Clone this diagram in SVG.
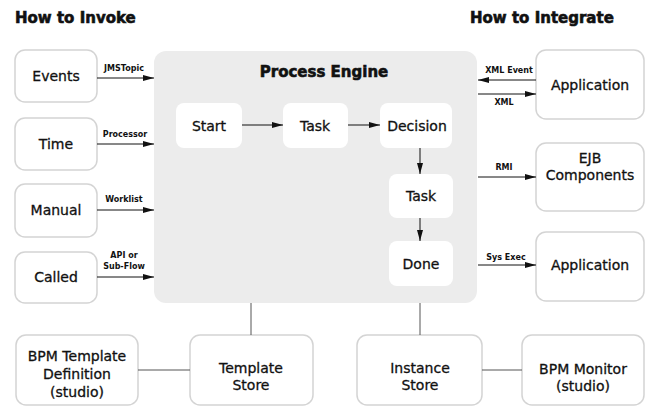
<svg xmlns="http://www.w3.org/2000/svg" width="647" height="407" viewBox="0 0 647 407">
  <style>
    .title { font-family: "DejaVu Sans", Verdana, sans-serif; font-weight: bold; font-size: 15px; fill: #111; stroke: #111; stroke-width: 0.6; }
    .ext { fill: #fff; stroke: #d4d4d4; stroke-width: 1.5; }
    .inner { fill: #fff; }
    .engine { fill: #ececec; }
    .lbl { font-family: "DejaVu Sans", Verdana, sans-serif; font-size: 14px; fill: #111; stroke: #111; stroke-width: 0.3; text-anchor: middle; }
    .small { font-family: "DejaVu Sans", Verdana, sans-serif; font-weight: bold; font-size: 8px; fill: #111; text-anchor: middle; }
    .flow { stroke: #111; stroke-width: 1; fill: none; marker-end: url(#head); }
    .link { stroke: #555; stroke-width: 1; fill: none; }
  </style>
  <defs>
    <marker id="head" markerUnits="userSpaceOnUse" markerWidth="11" markerHeight="7" refX="11" refY="3.5" orient="auto">
      <path d="M0,0.5 L11,3.5 L0,6.5 z" fill="#111"/>
    </marker>
  </defs>

  <rect width="647" height="407" fill="#fff"/>

  <text class="title" x="15" y="23">How to Invoke</text>
  <text class="title" x="470" y="23">How to Integrate</text>

  <!-- process engine container -->
  <g id="engine">
    <rect class="engine" x="154" y="51" width="323" height="252" rx="12"/>
    <text class="title" x="324" y="77" font-size="16" text-anchor="middle">Process Engine</text>
  </g>

  <!-- invocation sources -->
  <g id="events"><rect class="ext" x="15" y="50" width="82" height="52" rx="10"/><text class="lbl" x="56" y="81">Events</text></g>
  <g id="time"><rect class="ext" x="15" y="118" width="82" height="52" rx="10"/><text class="lbl" x="56" y="149">Time</text></g>
  <g id="manual"><rect class="ext" x="15" y="184" width="82" height="53" rx="10"/><text class="lbl" x="56" y="215">Manual</text></g>
  <g id="called"><rect class="ext" x="15" y="252" width="82" height="51" rx="10"/><text class="lbl" x="56" y="282">Called</text></g>

  <!-- engine steps -->
  <g id="start"><rect class="inner" x="176" y="103" width="66" height="45" rx="8"/><text class="lbl" x="209" y="131">Start</text></g>
  <g id="task1"><rect class="inner" x="283" y="103" width="65" height="45" rx="8"/><text class="lbl" x="315" y="131">Task</text></g>
  <g id="decision"><rect class="inner" x="380" y="103" width="72" height="45" rx="8"/><text class="lbl" x="417" y="131">Decision</text></g>
  <g id="task2"><rect class="inner" x="389" y="174" width="64" height="44" rx="8"/><text class="lbl" x="421" y="201">Task</text></g>
  <g id="done"><rect class="inner" x="389" y="241" width="64" height="45" rx="8"/><text class="lbl" x="421" y="269">Done</text></g>

  <!-- integration targets -->
  <g id="application1"><rect class="ext" x="536" y="50" width="108" height="69" rx="10"/><text class="lbl" x="590" y="90">Application</text></g>
  <g id="ejb"><rect class="ext" x="536" y="143" width="108" height="68" rx="10"/><text class="lbl" x="590" y="163">EJB</text><text class="lbl" x="590" y="180">Components</text></g>
  <g id="application2"><rect class="ext" x="536" y="232" width="108" height="69" rx="10"/><text class="lbl" x="590" y="270">Application</text></g>

  <!-- stores and studio tools -->
  <g id="template-def"><rect class="ext" x="16" y="335" width="122" height="70" rx="10"/><text class="lbl" x="77" y="361">BPM Template</text><text class="lbl" x="77" y="379">Definition</text><text class="lbl" x="77" y="397">(studio)</text></g>
  <g id="template-store"><rect class="ext" x="190" y="335" width="123" height="70" rx="10"/><text class="lbl" x="251" y="373">Template</text><text class="lbl" x="251" y="390">Store</text></g>
  <g id="instance-store"><rect class="ext" x="357" y="335" width="125" height="70" rx="10"/><text class="lbl" x="420" y="373">Instance</text><text class="lbl" x="420" y="390">Store</text></g>
  <g id="monitor"><rect class="ext" x="522" y="335" width="122" height="70" rx="10"/><text class="lbl" x="583" y="374">BPM Monitor</text><text class="lbl" x="583" y="391">(studio)</text></g>

  <g id="connectors">
    <line class="flow" x1="97" y1="78" x2="154" y2="78"/>
    <line class="flow" x1="97" y1="144" x2="154" y2="144"/>
    <line class="flow" x1="97" y1="210" x2="154" y2="210"/>
    <line class="flow" x1="97" y1="277" x2="154" y2="277"/>

    <line class="flow" x1="242" y1="125" x2="283" y2="125"/>
    <line class="flow" x1="348" y1="125" x2="380" y2="125"/>
    <line class="flow" x1="420" y1="148" x2="420" y2="174"/>
    <line class="flow" x1="420" y1="218" x2="420" y2="241"/>

    <line class="flow" x1="536" y1="80" x2="478" y2="80"/>
    <line class="flow" x1="478" y1="94" x2="536" y2="94"/>
    <line class="flow" x1="478" y1="177" x2="536" y2="177"/>
    <line class="flow" x1="478" y1="265" x2="536" y2="265"/>

    <line class="link" x1="251" y1="303" x2="251" y2="335"/>
    <line class="link" x1="420" y1="303" x2="420" y2="335"/>
    <line class="link" x1="138" y1="370" x2="190" y2="370"/>
    <line class="link" x1="482" y1="370" x2="522" y2="370"/>

    <text class="small" x="124" y="71">JMSTopic</text>
    <text class="small" x="125" y="137">Processor</text>
    <text class="small" x="124" y="202">Worklist</text>
    <text class="small" x="124" y="258">API or</text>
    <text class="small" x="124" y="269">Sub-Flow</text>
    <text class="small" x="509" y="73">XML Event</text>
    <text class="small" x="504" y="105">XML</text>
    <text class="small" x="504" y="170">RMI</text>
    <text class="small" x="506" y="260">Sys Exec</text>
  </g>
</svg>
